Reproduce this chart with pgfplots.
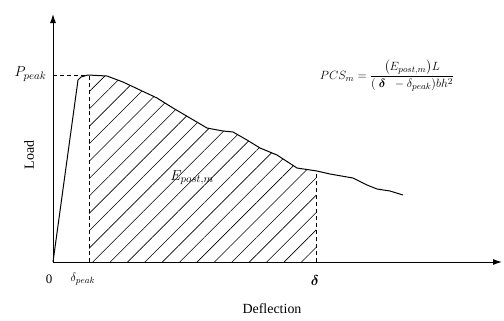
\documentclass[border=0pt]{standalone}
\usepackage{pgfplots}
\pgfplotsset{compat=1.18}
\usepackage{amsmath}
\usepackage{fontspec}
\setmainfont{Liberation Serif}
\usetikzlibrary{arrows.meta,patterns.meta}

\begin{document}
\begin{tikzpicture}[x=1bp,y=1bp]
\useasboundingbox (0,0) rectangle (504,-320);
\begin{axis}[
  at={(53bp,-262bp)}, anchor=origin,
  x=1bp, y=1bp,
  xmin=0, xmax=449, ymin=0, ymax=248,
  axis lines=left,
  axis line style={line width=1pt,-{Latex[length=9bp,width=6bp]}},
  xtick=\empty, ytick=\empty,
  clip=false,
]
% hatched post-peak energy region
\addplot[draw=none, pattern={Lines[angle=45,distance=12.3bp,line width=0.6pt]}, pattern color=black]
  coordinates {(36,0) (36,187) (54,186) (70,180) (87,172) (104,164) (120,154)
  (137,144) (154,134) (180,130) (194,122) (207,114) (224,107) (244,94) (263,91) (263,0)} \closedcycle;
% load-deflection curve
\addplot[black, line width=1pt] coordinates {
  (0,0) (25,182) (28,185) (35,187) (54,186) (70,180) (87,172) (104,164) (120,154)
  (137,144) (154,134) (170,131) (180,130) (194,122) (207,114) (224,107) (244,94)
  (264,91) (277,88) (300,84) (314,77) (324,73) (337,71) (350,67)};
% guide lines
\addplot[black, line width=0.9pt, dash pattern=on 4bp off 3bp] coordinates {(36,0) (36,187)};
\addplot[black, line width=0.9pt, dash pattern=on 4bp off 3bp] coordinates {(263,0) (263,91)};
\addplot[black, line width=0.9pt, dash pattern=on 4bp off 3bp] coordinates {(0,187) (35,187)};
% labels
\node[anchor=east, font=\fontsize{15}{15}\selectfont] at (axis cs:-3,188) {$P_{peak}$};
\node[rotate=90, font=\fontsize{14}{14}\selectfont] at (axis cs:-24,107) {Load};
\node[font=\fontsize{13}{13}\selectfont] at (axis cs:-4,-17) {0};
\node[font=\fontsize{13}{13}\selectfont] at (axis cs:30,-17) {$\delta_{peak}$};
\node[font=\fontsize{15}{15}\selectfont] at (axis cs:262,-19) {$\boldsymbol{\delta}$};
\node[font=\fontsize{14}{14}\selectfont] at (axis cs:219,-47) {Deflection};
\node[font=\fontsize{15}{15}\selectfont] at (axis cs:139,84) {$E_{post,m}$};
\node[font=\fontsize{13}{13}\selectfont] at (axis cs:334,186)
  {$PCS_m=\dfrac{\bigl(E_{post,m}\bigr)L}{(\;\boldsymbol{\delta}\;\;-\delta_{peak})bh^2}$};
\end{axis}
\end{tikzpicture}
\end{document}
